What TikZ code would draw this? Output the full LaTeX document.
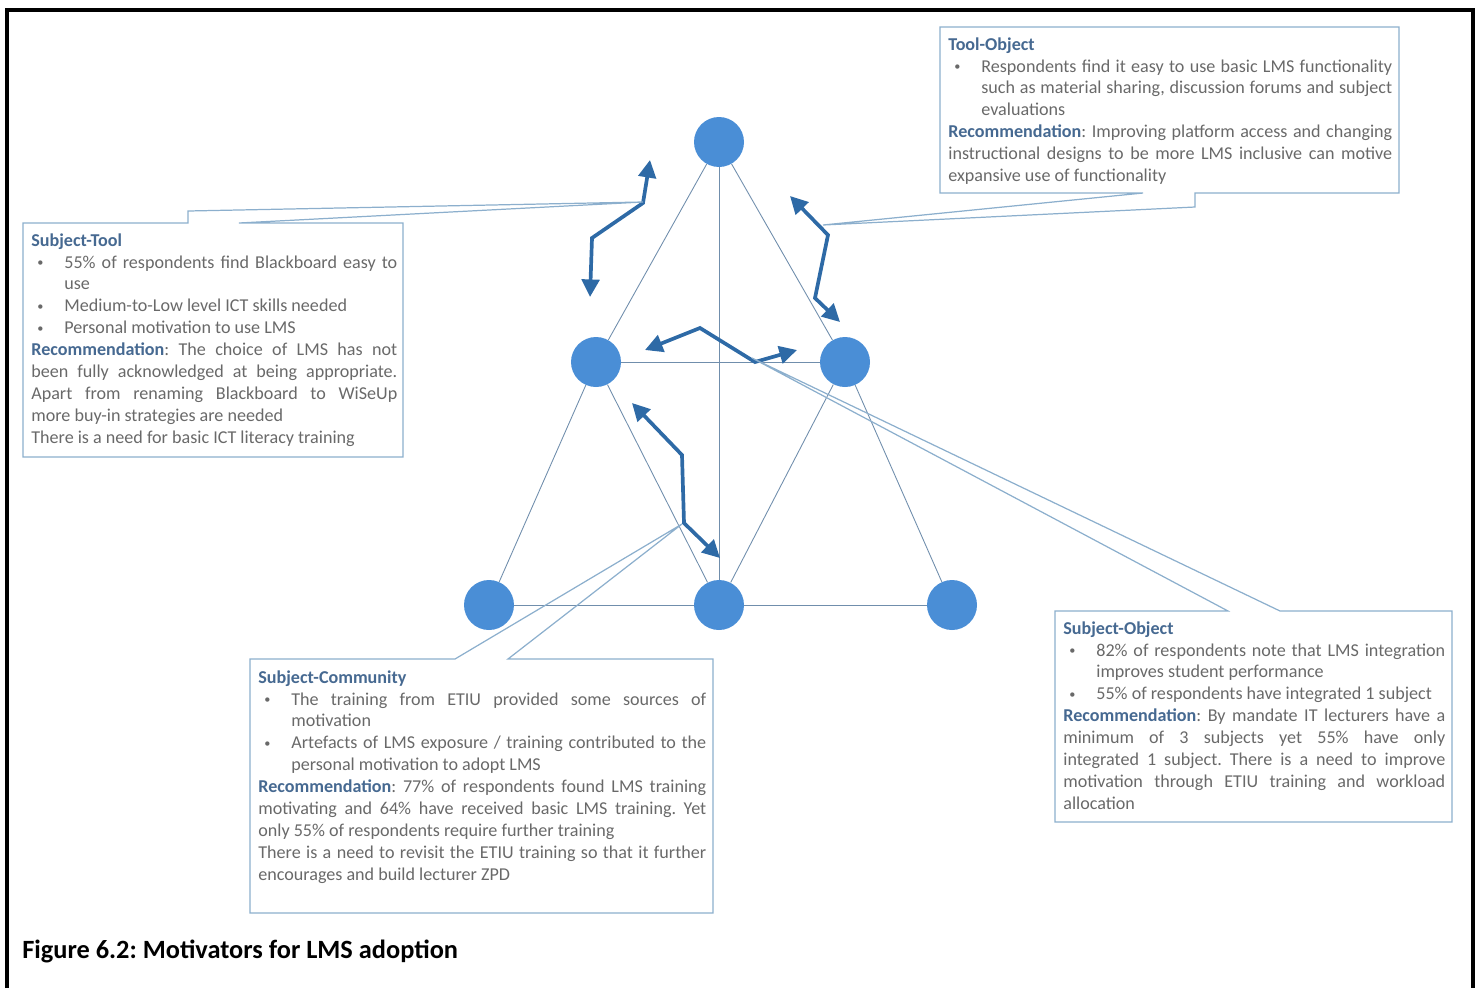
\documentclass[tikz,border=0pt]{standalone}
\usepackage{fontspec}
\setmainfont{Carlito}
\usetikzlibrary{arrows.meta}

\definecolor{nodeblue}{RGB}{74,142,214}
\definecolor{arrowblue}{RGB}{46,106,166}
\definecolor{edgeblue}{RGB}{112,142,172}
\definecolor{boxblue}{RGB}{140,175,205}
\definecolor{titleblue}{RGB}{70,105,145}
\definecolor{bodygray}{RGB}{105,105,105}

\newcommand{\bitem}[1]{\par\hangindent=18.8pt\hangafter=1\noindent\makebox[18.8pt][l]{\hspace{3.4pt}\raisebox{0.2ex}{\scriptsize\textbullet}}#1}
\newcommand{\ttl}[1]{\noindent\textbf{\color{titleblue}#1}}
\newcommand{\recom}{\par\noindent\textbf{\color{titleblue}Recommendation}: }
\frenchspacing
\hyphenpenalty=10000
\tolerance=10000

\begin{document}
\begin{tikzpicture}[x=0.02cm,y=-0.02cm,
    boxtext/.style={anchor=north west, inner sep=0pt, align=justify, text=bodygray,
      font=\fontsize{10.3}{12.5}\selectfont},
    callout/.style={draw=boxblue, line width=0.7pt},
    dblarrow/.style={draw=arrowblue, line width=2.1pt,
      {Triangle[length=10pt,width=10pt]}-{Triangle[length=10pt,width=10pt]}}]

        \useasboundingbox (0,0) rectangle (1478,988);
        \draw[line width=1.8pt] (7,988) -- (7,10) -- (1473,10) -- (1473,988);

        % activity triangle
        \begin{scope}[every node/.style={circle, fill=nodeblue, minimum size=1cm, inner sep=0pt}]
          \node (0) at (719,142) {};
          \node (1) at (596,362) {};
          \node (2) at (845,362) {};
          \node (3) at (489,605) {};
          \node (4) at (719,605) {};
          \node (5) at (952,605) {};
        \end{scope}

        \begin{scope}[every edge/.style={draw=edgeblue, line width=0.5pt}]
          \path (0) edge (1) (1) edge (3) (0) edge (2) (2) edge (5);
          \path (1) edge (2) (1) edge (4) (2) edge (4) (0) edge (4);
          \path (3) edge (4) (4) edge (5);
        \end{scope}

        % double arrows
        \coordinate (a0) at (590,297);
        \coordinate (a1) at (592,238);
        \coordinate (a2) at (643,203);
        \coordinate (a3) at (650,160);
        \coordinate (b0) at (790,196);
        \coordinate (b1) at (828,235);
        \coordinate (b2) at (815,298);
        \coordinate (b3) at (840,322);
        \coordinate (c0) at (645,350);
        \coordinate (c1) at (700,328);
        \coordinate (c2) at (755,362);
        \coordinate (c3) at (797,350);
        \coordinate (d0) at (632,403);
        \coordinate (d1) at (682,455);
        \coordinate (d2) at (684,523);
        \coordinate (d3) at (720,558);

        \draw[dblarrow] (a0) -- (a1) -- (a2) -- (a3);
        \draw[dblarrow] (b0) -- (b1) -- (b2) -- (b3);
        \draw[dblarrow] (c0) -- (c1) -- (c2) -- (c3);
        \draw[dblarrow] (d0) -- (d1) -- (d2) -- (d3);

        % callouts
        \coordinate (stTip) at (643,202);
        \coordinate (toTip) at (823,225);
        \coordinate (scTip) at (682,524);
        \coordinate (soTip) at (752,358);

        \draw[callout] (23,223) -- (188,223) -- (188,211) -- (stTip) -- (239,223)
          -- (403,223) -- (403,457) -- (23,457) -- cycle;
        \draw[callout] (940,27) -- (1399,27) -- (1399,193) -- (1195,193) -- (1195,207)
          -- (toTip) -- (1143,193) -- (940,193) -- cycle;
        \draw[callout] (250,659) -- (455,659) -- (scTip) -- (508,659) -- (713,659)
          -- (713,913) -- (250,913) -- cycle;
        \draw[callout] (1055,611) -- (1228,611) -- (soTip) -- (1280,611) -- (1452,611)
          -- (1452,822) -- (1055,822) -- cycle;

        \node[boxtext, text width=7.32cm] (st) at (31,233) {\ttl{Subject-Tool}
          \bitem{55\% of respondents find Blackboard easy to\linebreak use}
          \bitem{Medium-to-Low level ICT skills needed}
          \bitem{Personal motivation to use LMS}
          \recom The choice of LMS has not\linebreak been fully acknowledged at being appropriate.\linebreak
          Apart from renaming Blackboard to WiSeUp\linebreak more buy-in strategies are needed
          \par\noindent There is a need for basic ICT literacy training};

        \node[boxtext, text width=8.88cm] (to) at (948,37) {\ttl{Tool-Object}
          \bitem{Respondents find it easy to use basic LMS functionality\linebreak
            such as material sharing, discussion forums and subject\linebreak evaluations}
          \recom Improving platform access and changing\linebreak instructional designs
          to be more LMS inclusive can motive\linebreak expansive use of functionality};

        \node[boxtext, text width=8.96cm] (sc) at (258,670) {\ttl{Subject-Community}
          \bitem{The training from ETIU provided some sources of\linebreak motivation}
          \bitem{Artefacts of LMS exposure / training contributed to the\linebreak
            personal motivation to adopt LMS}
          \recom 77\% of respondents found LMS training\linebreak motivating and 64\% have
          received basic LMS training. Yet\linebreak only 55\% of respondents require further training
          \par\noindent There is a need to revisit the ETIU training so that it further\linebreak
          encourages and build lecturer ZPD};

        \node[boxtext, text width=7.64cm] (so) at (1063,621) {\ttl{Subject-Object}
          \bitem{82\% of respondents note that LMS integration\linebreak improves student performance}
          \bitem{55\% of respondents have integrated 1 subject}
          \recom By mandate IT lecturers have a\linebreak minimum of 3 subjects yet 55\% have only\linebreak
          integrated 1 subject. There is a need to improve\linebreak motivation through ETIU training
          and workload\linebreak allocation};

        \node[anchor=west, inner sep=0pt, font=\bfseries\fontsize{15}{18}\selectfont] (cap)
          at (22,951) {Figure 6.2: Motivators for LMS adoption};

      \end{tikzpicture}
\end{document}
